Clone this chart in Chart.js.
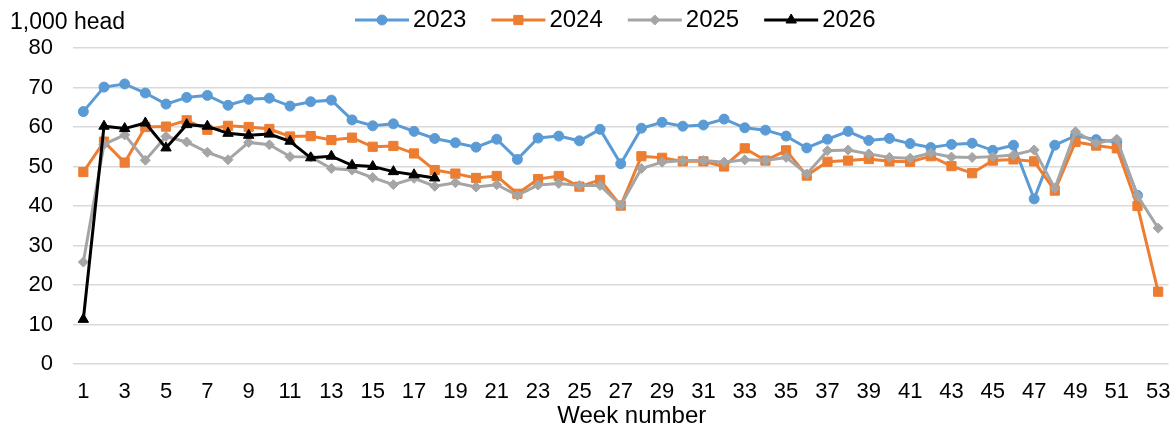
<!DOCTYPE html>
<html>
<head>
<meta charset="utf-8">
<script src="https://cdn.jsdelivr.net/npm/chart.js@4/dist/chart.umd.min.js"></script>
<style>
  html, body { margin: 0; padding: 0; background: #fff; }
  #wrap { width: 1176px; height: 428px; position: relative; }
</style>
</head>
<body>
<div id="wrap"><canvas id="chart"></canvas></div>
<script>
// Weekly slaughter, 1,000 head
const weeks = [1, 2, 3, 4, 5, 6, 7, 8, 9, 10, 11, 12, 13, 14, 15, 16, 17, 18, 19, 20,
  21, 22, 23, 24, 25, 26, 27, 28, 29, 30, 31, 32, 33, 34, 35, 36, 37, 38, 39, 40,
  41, 42, 43, 44, 45, 46, 47, 48, 49, 50, 51, 52, 53];

const y2023 = [63.9, 70.1, 70.9, 68.6, 65.8, 67.5, 68.0, 65.5, 67.0, 67.3,
  65.3, 66.4, 66.8, 61.8, 60.3, 60.8, 58.9, 57.1, 56.0, 54.9,
  56.9, 51.8, 57.2, 57.7, 56.5, 59.4, 50.7, 59.7, 61.2, 60.2,
  60.5, 62.0, 59.8, 59.2, 57.7, 54.7, 56.9, 58.9, 56.6, 57.1,
  55.8, 54.8, 55.6, 55.9, 54.1, 55.4, 41.8, 55.4, 57.8, 56.8,
  56.2, 42.7];

const y2024 = [48.6, 56.3, 51.0, 60.0, 60.1, 61.7, 59.3, 60.3, 60.0, 59.5,
  57.6, 57.7, 56.7, 57.3, 55.0, 55.2, 53.3, 49.1, 48.2, 47.1,
  47.6, 43.1, 46.8, 47.6, 44.9, 46.6, 40.1, 52.6, 52.2, 51.3,
  51.3, 50.0, 54.6, 51.5, 54.1, 47.7, 51.2, 51.5, 51.9, 51.3,
  51.2, 52.6, 50.1, 48.3, 51.5, 51.8, 51.3, 43.9, 56.2, 55.3,
  54.6, 40.0, 18.3];

const y2025 = [25.8, 55.6, 58.0, 51.6, 57.6, 56.2, 53.6, 51.7, 56.1, 55.5,
  52.5, 52.4, 49.5, 49.1, 47.2, 45.4, 47.0, 45.0, 45.9, 44.8,
  45.4, 42.7, 45.3, 45.7, 45.2, 45.2, 40.2, 49.5, 51.1, 51.5,
  51.5, 51.1, 51.7, 51.5, 52.3, 48.1, 54.0, 54.2, 53.2, 52.3,
  52.1, 53.4, 52.4, 52.3, 52.5, 52.9, 54.2, 44.5, 58.8, 55.9,
  56.9, 42.6, 34.4];

const y2026 = [11.3, 60.2, 59.6, 61.0, 54.7, 60.6, 60.2, 58.4, 57.9, 58.2,
  56.4, 52.2, 52.6, 50.3, 50.0, 48.7, 47.9, 47.1];

const seriesNames = ['2023', '2024', '2025', '2026'];
const unitLabel = '1,000 head';
const axisTitle = 'Week number';

const FONT = '"Liberation Sans", Arial, sans-serif';

function lineSet(label, data, color, style, radius, order) {
  return {
    label, data, order,
    borderColor: color, backgroundColor: color,
    pointBackgroundColor: color, pointBorderColor: color,
    borderWidth: 3, pointBorderWidth: 1,
    pointStyle: style, pointRadius: radius, pointHoverRadius: radius,
    tension: 0, fill: false, spanGaps: false
  };
}

// Key across the top: line sample with marker, then the year
const seriesKey = {
  id: 'seriesKey',
  afterDraw(chart) {
    const ctx = chart.ctx;
    ctx.save();
    ctx.font = '24px ' + FONT;
    ctx.textBaseline = 'middle';
    ctx.textAlign = 'left';
    const cy = 20;
    let x = 355;
    chart.data.datasets.forEach(ds => {
      ctx.strokeStyle = ds.borderColor;
      ctx.lineWidth = ds.borderWidth;
      ctx.beginPath();
      ctx.moveTo(x, cy);
      ctx.lineTo(x + 54, cy);
      ctx.stroke();
      ctx.fillStyle = ds.pointBackgroundColor;
      ctx.lineWidth = 1;
      Chart.helpers.drawPoint(ctx, {
        pointStyle: ds.pointStyle, radius: ds.pointRadius, rotation: 0, borderWidth: 1
      }, x + 27, cy);
      ctx.fillStyle = '#000';
      ctx.fillText(ds.label, x + 58, cy);
      x += 58 + ctx.measureText(ds.label).width + 25;
    });
    ctx.restore();
  }
};

// Unit caption above the value axis and the week axis title
const captions = {
  id: 'captions',
  afterDraw(chart) {
    const ctx = chart.ctx;
    const area = chart.chartArea;
    ctx.save();
    ctx.fillStyle = '#000';
    ctx.font = '23px ' + FONT;
    ctx.textBaseline = 'middle';
    ctx.textAlign = 'left';
    ctx.fillText(unitLabel, 10, 23);
    ctx.font = '24px ' + FONT;
    ctx.textAlign = 'center';
    ctx.fillText(axisTitle, (area.left + area.right) / 2 + 11, 416);
    ctx.restore();
  }
};

new Chart(document.getElementById('chart'), {
  type: 'line',
  data: {
    labels: weeks,
    datasets: [
      lineSet(seriesNames[0], y2023, '#5B9BD5', 'circle', 5, 4),
      lineSet(seriesNames[1], y2024, '#ED7D31', 'rect', 6.5, 3),
      lineSet(seriesNames[2], y2025, '#A5A5A5', 'rectRot', 5, 2),
      lineSet(seriesNames[3], y2026, '#000000', 'triangle', 6, 1)
    ]
  },
  options: {
    responsive: true,
    maintainAspectRatio: false,
    animation: false,
    layout: { padding: { top: 48, right: 6, left: 0, bottom: 0 } },
    plugins: {
      legend: { display: false },
      tooltip: { enabled: false }
    },
    scales: {
      x: {
        type: 'category',
        offset: true,
        grid: { display: false, drawTicks: false },
        border: { display: false },
        ticks: {
          autoSkip: false,
          maxRotation: 0,
          padding: 15,
          color: '#000',
          font: { family: FONT, size: 22 },
          callback(value, index) {
            const w = weeks[index];
            return w % 2 === 1 ? String(w) : '';
          }
        },
        afterFit(scale) {
          scale.height = 64;
          scale.paddingLeft = 0;
          scale.paddingRight = 0;
        }
      },
      y: {
        min: 0,
        max: 80,
        grid: { color: '#d9d9d9', lineWidth: 1.5, drawTicks: false },
        border: { display: false },
        ticks: {
          stepSize: 10,
          padding: 20,
          color: '#000',
          font: { family: FONT, size: 22 }
        },
        afterFit(scale) { scale.width = 73; }
      }
    }
  },
  plugins: [seriesKey, captions]
});
</script>
</body>
</html>
